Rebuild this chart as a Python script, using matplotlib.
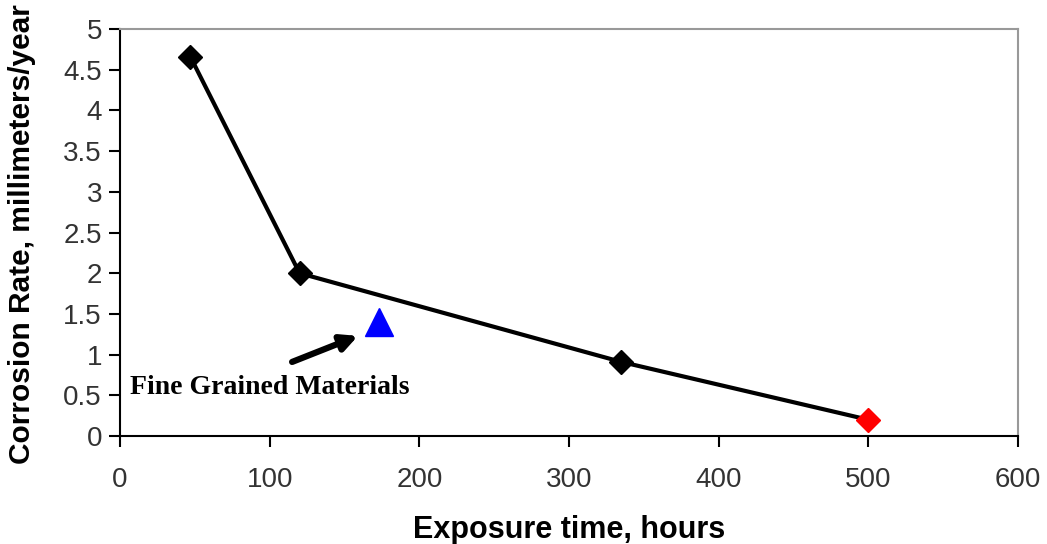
import matplotlib.pyplot as plt

# Main series (exposure time in hours, corrosion rate in mm/year)
hours = [47, 120, 335]
rate = [4.66, 2.0, 0.91]
# last point of the line, drawn in red
last_hours = 500
last_rate = 0.2
# fine grained materials
fine_hours = 173
fine_rate = 1.40

xticks = [0, 100, 200, 300, 400, 500, 600]
yticks = [0, 0.5, 1, 1.5, 2, 2.5, 3, 3.5, 4, 4.5, 5]
ytick_labels = ['0', '0.5', '1', '1.5', '2', '2.5', '3', '3.5', '4', '4.5', '5']

plt.rcParams['font.family'] = ['Liberation Sans', 'DejaVu Sans']

fig = plt.figure(figsize=(10.47, 5.44), dpi=100)
ax = fig.add_axes([0.1146, 0.1985, 0.8577, 0.7482])

ax.plot(hours + [last_hours], rate + [last_rate], color='black', lw=3, zorder=2)
ax.plot(hours, rate, ls='none', marker='D', ms=12, color='black', zorder=3)
ax.plot([last_hours], [last_rate], ls='none', marker='D', ms=12, color='red', zorder=3)
ax.plot([fine_hours], [fine_rate], ls='none', marker='^', ms=20, color='blue', zorder=3)

ax.annotate('', xy=(159, 1.23), xytext=(115, 0.91),
            arrowprops=dict(arrowstyle='-|>', color='black', lw=4.5,
                            mutation_scale=24, shrinkA=0, shrinkB=0))
ax.text(6.5, 0.6, 'Fine Grained Materials', family=['Liberation Serif'],
        fontsize=20, fontweight='bold', va='center', ha='left')

ax.set_xlim(0, 600)
ax.set_ylim(0, 5)
ax.set_xticks(xticks)
ax.set_yticks(yticks)
ax.set_yticklabels(ytick_labels)
ax.tick_params(direction='out', length=8, width=1.5, labelsize=20,
               labelcolor='#333333', pad=5)
ax.tick_params(axis='x', pad=14)

for s in ['top', 'right']:
    ax.spines[s].set_color('#999999')
    ax.spines[s].set_linewidth(1.5)
for s in ['left', 'bottom']:
    ax.spines[s].set_linewidth(1.5)

ax.set_xlabel('Exposure time, hours', fontsize=22, fontweight='bold')
ax.set_ylabel('Corrosion Rate, millimeters/year', fontsize=21.5, fontweight='bold')
ax.xaxis.set_label_coords(0.5, -0.195)
ax.yaxis.set_label_coords(-0.093, 0.495)

fig.savefig('out.png', dpi=100)
